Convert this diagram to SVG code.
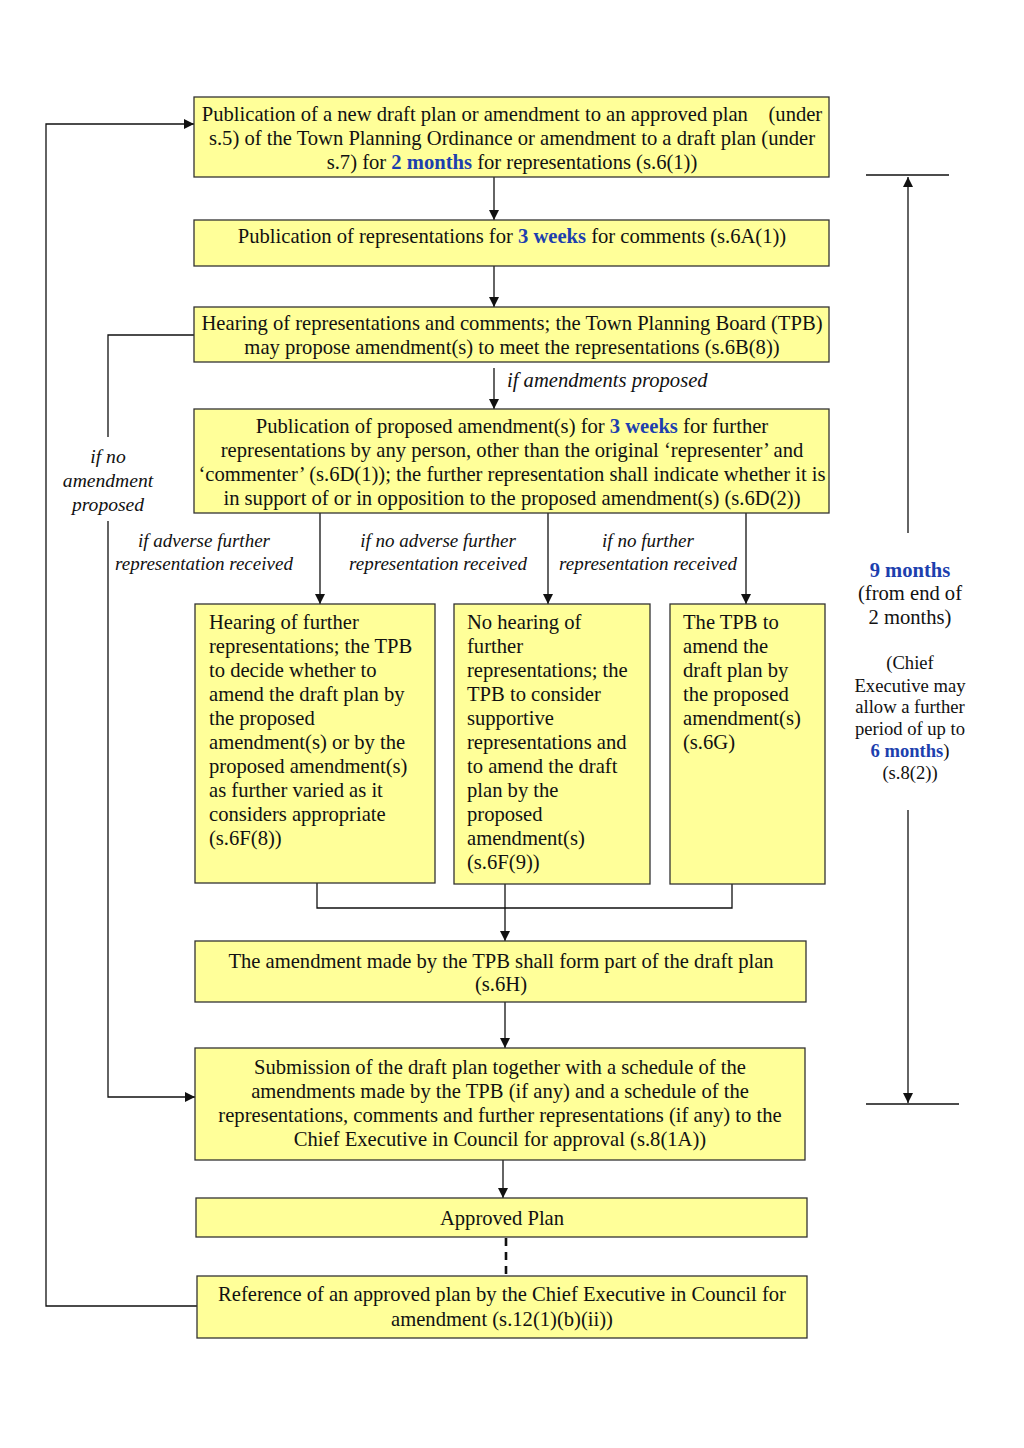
<svg xmlns="http://www.w3.org/2000/svg" width="1024" height="1448" viewBox="0 0 1024 1448">
<style>
.box{fill:#ffff99;stroke:#333333;stroke-width:1.3}
.t{font-family:"Liberation Serif","Times New Roman",serif;font-size:20.6px;fill:#111111}
.c{text-anchor:middle}
.i{font-family:"Liberation Serif","Times New Roman",serif;font-style:italic;font-size:19px;fill:#111111;text-anchor:middle}
.s{font-family:"Liberation Serif","Times New Roman",serif;font-size:18.6px;fill:#111111;text-anchor:middle}
.b{font-weight:bold;fill:#1d3fae}
.ln{fill:none;stroke:#111111;stroke-width:1.3}
.dash{fill:none;stroke:#111111;stroke-width:2.6;stroke-dasharray:8,6}
</style>
<defs>
<marker id="ah" viewBox="0 0 10 10" refX="10" refY="5" markerWidth="10" markerHeight="10" markerUnits="userSpaceOnUse" orient="auto">
<path d="M0,0 L10,5 L0,10 z" fill="#111111"/>
</marker>
</defs>
<rect width="1024" height="1448" fill="#ffffff"/>

<g id="connectors">
<line class="ln" x1="494" y1="177" x2="494" y2="220" marker-end="url(#ah)"/>
<line class="ln" x1="494" y1="266" x2="494" y2="307" marker-end="url(#ah)"/>
<line class="ln" x1="494" y1="368" x2="494" y2="409" marker-end="url(#ah)"/>
<polyline class="ln" points="194,335 108,335 108,437"/>
<polyline class="ln" points="108,521 108,1097 195,1097" marker-end="url(#ah)"/>
<polyline class="ln" points="197,1306 46,1306 46,124 194,124" marker-end="url(#ah)"/>
<line class="ln" x1="320" y1="513" x2="320" y2="604" marker-end="url(#ah)"/>
<line class="ln" x1="548" y1="513" x2="548" y2="604" marker-end="url(#ah)"/>
<line class="ln" x1="746" y1="513" x2="746" y2="604" marker-end="url(#ah)"/>
<polyline class="ln" points="317,883 317,908 732,908 732,884"/>
<line class="ln" x1="505" y1="884" x2="505" y2="941" marker-end="url(#ah)"/>
<line class="ln" x1="505" y1="1002" x2="505" y2="1048" marker-end="url(#ah)"/>
<line class="ln" x1="503" y1="1160" x2="503" y2="1198" marker-end="url(#ah)"/>
<line class="dash" x1="506" y1="1238" x2="506" y2="1276"/>
<line class="ln" x1="866" y1="175" x2="949" y2="175"/>
<line class="ln" x1="908" y1="533" x2="908" y2="177" marker-end="url(#ah)"/>
<line class="ln" x1="866" y1="1104" x2="959" y2="1104"/>
<line class="ln" x1="908" y1="810" x2="908" y2="1103" marker-end="url(#ah)"/>
</g>

<g id="labels">
<text class="t" x="507" y="387" style="font-style:italic">if amendments proposed</text>
<text class="i" x="108" y="463" style="font-size:19.6px">if no</text>
<text class="i" x="108" y="487" style="font-size:19.6px">amendment</text>
<text class="i" x="108" y="511" style="font-size:19.6px">proposed</text>
<text class="i" x="204" y="547">if adverse further</text>
<text class="i" x="204" y="570">representation received</text>
<text class="i" x="438" y="547">if no adverse further</text>
<text class="i" x="438" y="570">representation received</text>
<text class="i" x="648" y="547">if no further</text>
<text class="i" x="648" y="570">representation received</text>
</g>

<g id="timeframe">
<text class="t c" x="910" y="577"><tspan class="b">9 months</tspan></text>
<text class="t c" x="910" y="600">(from end of</text>
<text class="t c" x="910" y="624">2 months)</text>
<text class="s" x="910" y="669">(Chief</text>
<text class="s" x="910" y="692">Executive may</text>
<text class="s" x="910" y="713">allow a further</text>
<text class="s" x="910" y="735">period of up to</text>
<text class="s" x="910" y="757"><tspan class="b">6 months</tspan>)</text>
<text class="s" x="910" y="779">(s.8(2))</text>
</g>

<g id="n1">
<rect class="box" x="194" y="97" width="635" height="80"/>
<text class="t c" x="512" y="121" xml:space="preserve">Publication of a new draft plan or amendment to an approved plan    (under</text>
<text class="t c" x="512" y="145">s.5) of the Town Planning Ordinance or amendment to a draft plan (under</text>
<text class="t c" x="512" y="169">s.7) for <tspan class="b">2 months</tspan> for representations (s.6(1))</text>
</g>

<g id="n2">
<rect class="box" x="194" y="220" width="635" height="46"/>
<text class="t c" x="512" y="243">Publication of representations for <tspan class="b">3 weeks</tspan> for comments (s.6A(1))</text>
</g>

<g id="n3">
<rect class="box" x="194" y="307" width="635" height="55"/>
<text class="t c" x="512" y="330">Hearing of representations and comments; the Town Planning Board (TPB)</text>
<text class="t c" x="512" y="354">may propose amendment(s) to meet the representations (s.6B(8))</text>
</g>

<g id="n4">
<rect class="box" x="194" y="409" width="635" height="104"/>
<text class="t c" x="512" y="433">Publication of proposed amendment(s) for <tspan class="b">3 weeks</tspan> for further</text>
<text class="t c" x="512" y="457">representations by any person, other than the original ‘representer’ and</text>
<text class="t c" x="512" y="481">‘commenter’ (s.6D(1)); the further representation shall indicate whether it is</text>
<text class="t c" x="512" y="505">in support of or in opposition to the proposed amendment(s) (s.6D(2))</text>
</g>

<g id="n5a">
<rect class="box" x="195" y="604" width="240" height="279"/>
<text class="t" x="209" y="629">Hearing of further</text>
<text class="t" x="209" y="653">representations; the TPB</text>
<text class="t" x="209" y="677">to decide whether to</text>
<text class="t" x="209" y="701">amend the draft plan by</text>
<text class="t" x="209" y="725">the proposed</text>
<text class="t" x="209" y="749">amendment(s) or by the</text>
<text class="t" x="209" y="773">proposed amendment(s)</text>
<text class="t" x="209" y="797">as further varied as it</text>
<text class="t" x="209" y="821">considers appropriate</text>
<text class="t" x="209" y="845">(s.6F(8))</text>
</g>

<g id="n5b">
<rect class="box" x="454" y="604" width="196" height="280"/>
<text class="t" x="467" y="629">No hearing of</text>
<text class="t" x="467" y="653">further</text>
<text class="t" x="467" y="677">representations; the</text>
<text class="t" x="467" y="701">TPB to consider</text>
<text class="t" x="467" y="725">supportive</text>
<text class="t" x="467" y="749">representations and</text>
<text class="t" x="467" y="773">to amend the draft</text>
<text class="t" x="467" y="797">plan by the</text>
<text class="t" x="467" y="821">proposed</text>
<text class="t" x="467" y="845">amendment(s)</text>
<text class="t" x="467" y="869">(s.6F(9))</text>
</g>

<g id="n5c">
<rect class="box" x="670" y="604" width="155" height="280"/>
<text class="t" x="683" y="629">The TPB to</text>
<text class="t" x="683" y="653">amend the</text>
<text class="t" x="683" y="677">draft plan by</text>
<text class="t" x="683" y="701">the proposed</text>
<text class="t" x="683" y="725">amendment(s)</text>
<text class="t" x="683" y="749">(s.6G)</text>
</g>

<g id="n6">
<rect class="box" x="195" y="941" width="611" height="61"/>
<text class="t c" x="501" y="968">The amendment made by the TPB shall form part of the draft plan</text>
<text class="t c" x="501" y="991">(s.6H)</text>
</g>

<g id="n7">
<rect class="box" x="195" y="1048" width="610" height="112"/>
<text class="t c" x="500" y="1074">Submission of the draft plan together with a schedule of the</text>
<text class="t c" x="500" y="1098">amendments made by the TPB (if any) and a schedule of the</text>
<text class="t c" x="500" y="1122">representations, comments and further representations (if any) to the</text>
<text class="t c" x="500" y="1146">Chief Executive in Council for approval (s.8(1A))</text>
</g>

<g id="n8">
<rect class="box" x="196" y="1198" width="611" height="39"/>
<text class="t c" x="502" y="1225">Approved Plan</text>
</g>

<g id="n9">
<rect class="box" x="197" y="1276" width="610" height="62"/>
<text class="t c" x="502" y="1301">Reference of an approved plan by the Chief Executive in Council for</text>
<text class="t c" x="502" y="1326">amendment (s.12(1)(b)(ii))</text>
</g>
</svg>
